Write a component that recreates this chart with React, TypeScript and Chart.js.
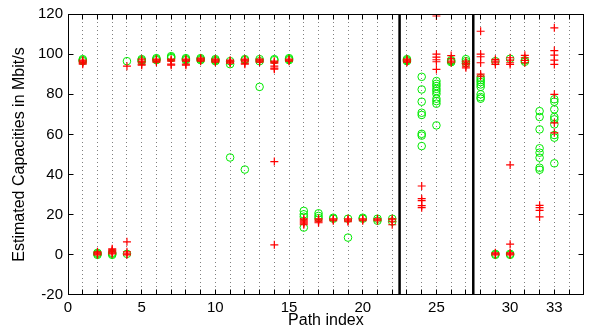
import React, { useEffect, useRef } from 'react';
import { Chart, registerables } from 'chart.js';

Chart.register(...registerables);

// ---- Data ----
const pathIndex = [
  1, 2, 3, 4, 5, 6, 7, 8, 9, 10, 11, 12, 13, 14, 15, 16, 17,
  18, 19, 20, 21, 22, 23, 24, 25, 26, 27, 28, 29, 30, 31, 32, 33,
];

// red "+" estimates per path
const redEstimates: number[][] = [
  [97, 96.5, 96, 95.5, 95],
  [1.5, 1, 0.5, 0],
  [3, 2.5, 2, 1.5, 1, 0.5],
  [94, 6.5, 1.5, 0.5, 0],
  [97.5, 96.5, 96, 95, 94.5],
  [97.5, 97, 96.5, 96],
  [97.5, 97, 96.5, 95, 94.5],
  [97.5, 97, 96.5, 95, 94.5],
  [98, 97.5, 97, 96.5],
  [97.5, 97, 96.5, 96],
  [97, 96.5, 96, 95.5],
  [97.5, 97, 96.5, 95.5, 95],
  [97.5, 97, 96.5, 96],
  [96.5, 96, 95.5, 94, 93, 92.5, 46.5, 5],
  [97.5, 97, 96.5],
  [18, 17.5, 17, 16.5, 16, 15.5, 15],
  [18, 17.5, 17, 16.5, 16],
  [18, 17.5, 17],
  [18, 17.5, 17, 16.5],
  [18, 17.5, 17],
  [18, 17.5, 17],
  [18, 17.5, 16.5, 15],
  [97.5, 97, 96.5, 96],
  [34.3, 28, 27, 24.5, 23.5],
  [119, 100, 98.5, 97.2, 96.2, 92.4],
  [99.3, 97.7, 96.5, 95.7],
  [96.5, 95.5, 95, 94, 93.2],
  [111.4, 100, 98.7, 95.7, 90, 89],
  [97.4, 96.5, 95.7, 94.9, 1, 0.5, 0],
  [98.2, 97, 95.7, 94.9, 44.8, 5.3, 1, 0.5, 0],
  [99.4, 98.2, 96.9, 95.7],
  [24.7, 23.5, 22.2, 18.9],
  [113.1, 101.8, 99.5, 97, 94.9, 80, 65.8, 60.8],
];

// green "o" estimates per path
const greenEstimates: number[][] = [
  [97.5, 97, 96.5],
  [1, 0.5, 0],
  [1, 0.5, 0],
  [96.5, 0.5],
  [97.5, 97, 96.5],
  [98, 97.5, 97],
  [99, 98.5, 98],
  [98, 97.5, 97],
  [98, 97.5, 97],
  [97.5, 97, 96.5],
  [96.5, 95, 48.5],
  [97.5, 97, 42.5],
  [97.5, 96.5, 83.7],
  [97.5, 97],
  [98, 97.5, 97],
  [21.9, 20.2, 19, 13.6],
  [20.7, 19.4, 18.3],
  [18.5, 18],
  [18, 8.6],
  [18.5, 18],
  [18, 17],
  [18, 16.6],
  [97.5, 97, 96.5],
  [88.7, 82.4, 76.3, 70.8, 69.7, 60.3, 59.4, 54.2],
  [86.6, 85.2, 84.1, 82.7, 81.6, 80.2, 77.8, 76.6, 75.3, 64.5],
  [97, 96.5, 96],
  [97.5, 96.5, 95.5],
  [88.2, 87.1, 86.1, 84.9, 83.7, 80, 78.6, 77.8],
  [96.5, 0.5, 0],
  [97.7, 0.5, 0],
  [96.9, 96.2],
  [71.6, 68.7, 62.5, 53.1, 50.9, 48.4, 43.4, 42.4],
  [77.5, 76.3, 72.5, 68.7, 67.5, 65, 59.7, 58.4, 45.6],
];

const xTickLabels = [0, 5, 10, 15, 20, 25, 30, 33];
const xRange = [0, 35];
const yRange = [-20, 120];
const yStep = 20;
const separators = [22.5, 27.5];

const xTitle = 'Path index';
const yTitle = 'Estimated Capacities in Mbit/s';

// ---- Helpers ----
const toPoints = (vals: number[][]) =>
  pathIndex.flatMap((p, i) => vals[i].map((v) => ({ x: p, y: v })));

const FONT = "'Liberation Sans', Arial, Helvetica, sans-serif";

const align = (px: number) => Math.round(px - 0.5) + 0.5;

const framePlugin = {
  id: 'matlabFrame',
  afterDraw(chart: any) {
    const { ctx, chartArea: a, scales } = chart;
    const L = align(a.left + 0.5);
    const R = align(a.right - 0.5);
    const T = align(a.top + 0.5);
    const B = align(a.bottom - 0.5);
    ctx.save();
    ctx.setLineDash([]);
    ctx.strokeStyle = '#000';
    ctx.lineWidth = 1;
    ctx.strokeRect(L, T, R - L, B - T);
    ctx.beginPath();
    for (const t of scales.x.ticks) {
      if (t.value <= xRange[0] || t.value >= xRange[1]) continue;
      const px = align(scales.x.getPixelForValue(t.value));
      ctx.moveTo(px, B);
      ctx.lineTo(px, B - 5);
      ctx.moveTo(px, T);
      ctx.lineTo(px, T + 5);
    }
    for (const t of scales.y.ticks) {
      if (t.value <= yRange[0] || t.value >= yRange[1]) continue;
      const py = align(scales.y.getPixelForValue(t.value));
      ctx.moveTo(L, py);
      ctx.lineTo(L + 5, py);
      ctx.moveTo(R, py);
      ctx.lineTo(R - 5, py);
    }
    ctx.stroke();
    ctx.restore();
  },
};

export default function App() {
  const canvasRef = useRef<HTMLCanvasElement | null>(null);

  useEffect(() => {
    const canvas = canvasRef.current;
    if (!canvas) return;

    const separatorSets = separators.map((s) => ({
      type: 'line' as const,
      data: [
        { x: s, y: yRange[0] },
        { x: s, y: yRange[1] },
      ],
      borderColor: '#000',
      borderWidth: 2.5,
      pointRadius: 0,
      showLine: true,
      fill: false,
    }));

    const chart = new Chart(canvas, {
      type: 'scatter',
      data: {
        datasets: [
          {
            label: 'red',
            data: toPoints(redEstimates),
            pointStyle: 'cross',
            pointRadius: 4,
            pointBorderWidth: 1.2,
            borderColor: 'rgb(255,0,0)',
            backgroundColor: 'rgb(255,0,0)',
          },
          {
            label: 'green',
            data: toPoints(greenEstimates),
            pointStyle: 'circle',
            pointRadius: 3.8,
            pointBorderWidth: 1,
            borderColor: 'rgb(0,235,0)',
            backgroundColor: 'rgba(0,0,0,0)',
          },
          ...(separatorSets as any[]),
        ],
      },
      options: {
        animation: false,
        responsive: false,
        devicePixelRatio: 1,
        layout: { padding: { top: 13, right: 0, left: 0, bottom: 0 } },
        plugins: {
          legend: { display: false },
          tooltip: { enabled: false },
        },
        events: [],
        scales: {
          x: {
            type: 'linear',
            min: xRange[0],
            max: xRange[1],
            afterFit: (s: any) => {
              s.height = 34;
            },
            ticks: {
              stepSize: 1,
              autoSkip: false,
              maxRotation: 0,
              padding: 4,
              color: '#000',
              font: { family: FONT, size: 15 },
              callback: (v: any) => (xTickLabels.includes(Number(v)) ? String(v) : ''),
            },
            grid: {
              drawTicks: false,
              lineWidth: 1,
              color: (ctx: any) =>
                ctx.tick && ctx.tick.value > xRange[0] && ctx.tick.value < xRange[1]
                  ? 'rgba(0,0,0,0.5)'
                  : 'rgba(0,0,0,0)',
            },
            border: { display: false, dash: [1, 3] },
            title: {
              display: true,
              text: xTitle,
              color: '#000',
              font: { family: FONT, size: 16, lineHeight: 1.1 },
              padding: { top: 0, bottom: 0 },
            },
          },
          y: {
            type: 'linear',
            min: yRange[0],
            max: yRange[1],
            afterFit: (s: any) => {
              s.width = 68;
            },
            ticks: {
              stepSize: yStep,
              padding: 5,
              color: '#000',
              font: { family: FONT, size: 15 },
            },
            grid: { display: false, drawTicks: false },
            border: { display: false },
            title: {
              display: true,
              text: yTitle,
              color: '#000',
              font: { family: FONT, size: 16, lineHeight: 1.2 },
              padding: { top: 10, bottom: 0 },
            },
          },
        },
      },
      plugins: [framePlugin],
    });

    return () => chart.destroy();
  }, []);

  return (
    <div style={{ position: 'fixed', left: 0, top: 0, width: 589, height: 329, background: '#fff' }}>
      <canvas ref={canvasRef} width={589} height={329} style={{ width: 589, height: 329, display: 'block' }} />
    </div>
  );
}
